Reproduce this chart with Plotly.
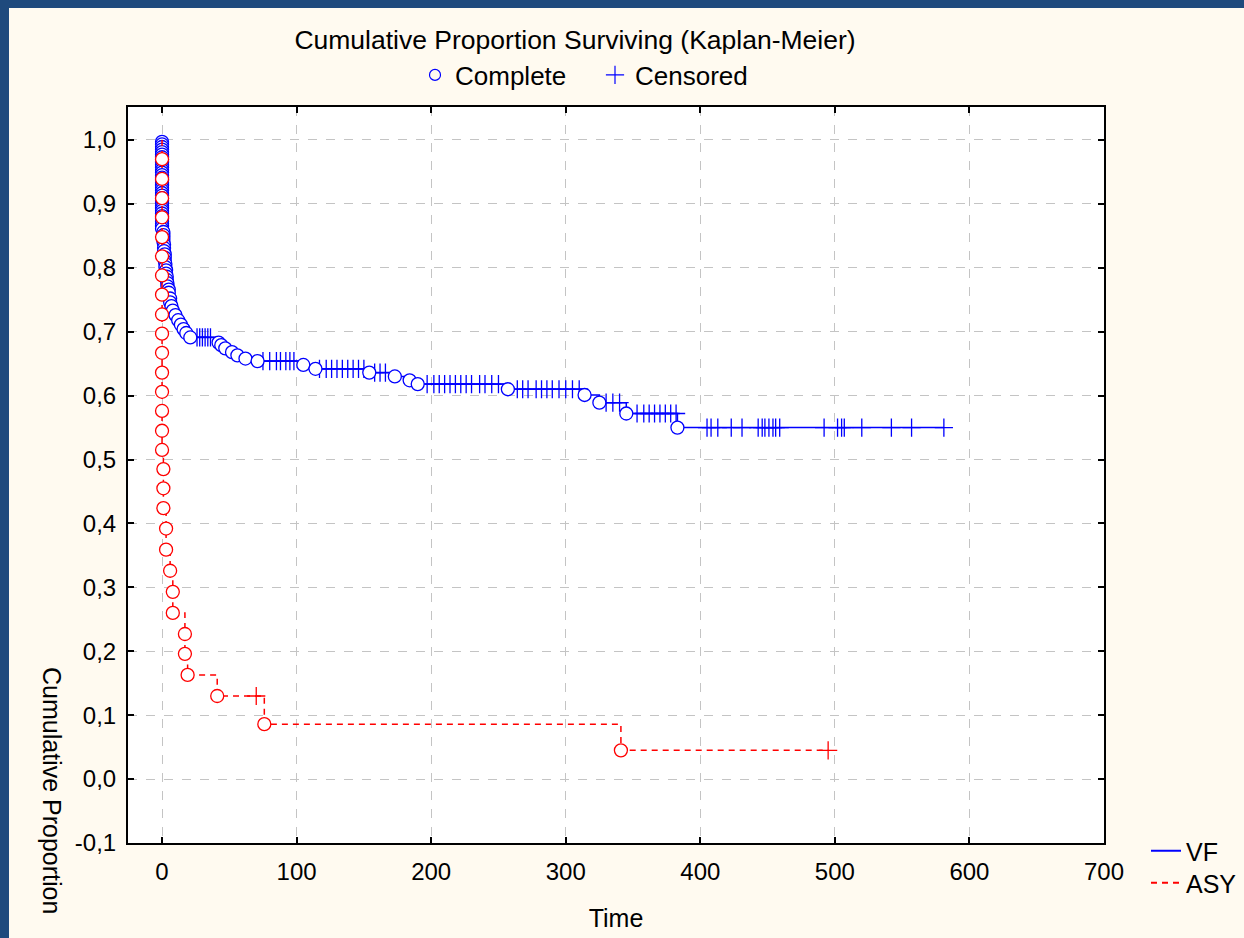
import plotly.graph_objects as go

# ---------------- data ----------------
vf_complete_t = [
    0, 0, 0, 0, 0, 0, 0, 0, 0, 0, 0, 0, 0, 0, 0, 0, 0, 0, 0, 0, 0, 0, 0, 0, 0, 0, 0, 0, 0, 0, 0, 0, 0, 0, 0,
    1, 1, 1, 1, 1.5, 1.5, 1.5, 2, 2, 2, 2.5, 2.5, 3, 3, 3.5, 3.5, 4, 4, 5, 5, 6, 6, 7, 8, 10, 12, 14, 16, 18, 21,
    42, 44, 47, 52, 56, 62, 71, 105, 114, 154, 173, 184, 190, 257, 314, 325, 345, 383]
vf_complete_s = [
    0.997, 0.993, 0.989, 0.985, 0.981, 0.977, 0.973, 0.969, 0.965, 0.961, 0.957, 0.953, 0.949, 0.945, 0.941,
    0.937, 0.933, 0.929, 0.925, 0.921, 0.917, 0.913, 0.909, 0.905, 0.901, 0.897, 0.893, 0.889, 0.885, 0.881,
    0.877, 0.873, 0.869, 0.865, 0.861,
    0.856, 0.851, 0.846, 0.841, 0.836, 0.831, 0.826, 0.821, 0.816, 0.811, 0.806, 0.801, 0.796, 0.791, 0.786,
    0.781, 0.776, 0.771, 0.766, 0.761, 0.752, 0.746, 0.740, 0.733, 0.726, 0.718, 0.711, 0.704, 0.698, 0.691,
    0.683, 0.679, 0.674, 0.668, 0.663, 0.658, 0.654, 0.648, 0.642, 0.636, 0.630, 0.624, 0.618, 0.610, 0.601,
    0.589, 0.572, 0.550]
vf_censored_t = [
    26, 28, 30, 32, 34, 36, 75, 80, 85, 88, 92, 95, 98, 117, 122, 126, 130, 134, 138, 142, 146, 150,
    158, 162, 166, 197, 202, 206, 210, 214, 218, 222, 226, 230, 236, 240, 245, 250,
    264, 268, 272, 278, 282, 286, 290, 295, 300, 305, 310, 330, 335, 340,
    353, 358, 362, 366, 370, 374, 378, 382,
    405, 408, 413, 423, 431, 443, 446, 448, 451, 454, 456, 459, 492, 502, 505, 507, 520, 542, 557, 581]

asy_complete_t = [0, 0, 0, 0, 0, 0, 0, 0, 0, 0, 0, 0, 0, 0, 0, 0,
                  1, 1, 1, 3, 3, 6, 8, 8, 17, 17, 19, 41, 76, 341]
asy_complete_s = [0.970, 0.939, 0.909, 0.879, 0.848, 0.818, 0.788, 0.758, 0.727, 0.697, 0.667, 0.636,
                  0.606, 0.576, 0.545, 0.515, 0.485, 0.455, 0.424, 0.392, 0.359, 0.326, 0.293, 0.260,
                  0.227, 0.196, 0.163, 0.130, 0.086, 0.045]
asy_censored_t = [70, 495]

x_tickvals = [0, 100, 200, 300, 400, 500, 600, 700]
x_ticktext = ["0", "100", "200", "300", "400", "500", "600", "700"]
y_tickvals = [-0.1, 0.0, 0.1, 0.2, 0.3, 0.4, 0.5, 0.6, 0.7, 0.8, 0.9, 1.0]
y_ticktext = ["-0,1", "0,0", "0,1", "0,2", "0,3", "0,4", "0,5", "0,6", "0,7", "0,8", "0,9", "1,0"]

BLUE = "#0000ff"
RED = "#ff0000"
FRAME = "#1f4a7d"
FONT = "Liberation Sans, Arial, sans-serif"


def level_at(t, times, surv):
    s = 1.0
    for ti, si in zip(times, surv):
        if ti <= t:
            s = si
    return s


def step_line(times, surv, censored):
    end = max(censored[-1], times[-1])
    return [0] + times + [end], [1.0] + surv + [surv[-1]]


fig = go.Figure()

for name, ct, cs, cens, col, dash in [
    ("VF", vf_complete_t, vf_complete_s, vf_censored_t, BLUE, "solid"),
    ("ASY", asy_complete_t, asy_complete_s, asy_censored_t, RED, "6px,5px"),
]:
    lx, ly = step_line(ct, cs, cens)
    fig.add_trace(go.Scatter(x=lx, y=ly, mode="lines", line=dict(color=col, width=1.5, dash=dash, shape="hv"),
                             showlegend=False, hoverinfo="skip"))
    fig.add_trace(go.Scatter(x=cens, y=[level_at(t, ct, cs) for t in cens], mode="markers",
                             marker=dict(symbol="cross-thin-open", size=13, color=col,
                                         line=dict(color=col, width=1.3)),
                             showlegend=False))
    fig.add_trace(go.Scatter(x=ct, y=cs, mode="markers",
                             marker=dict(symbol="circle", size=13, color="white", line=dict(color=col, width=1.3)),
                             showlegend=False))

# legend 1 (marker types)
fig.add_trace(go.Scatter(x=[None], y=[None], mode="markers", name="Complete", legend="legend",
                         marker=dict(symbol="circle-open", size=11, color=BLUE, line=dict(color=BLUE, width=1.2))))
fig.add_trace(go.Scatter(x=[None], y=[None], mode="markers", name="Censored", legend="legend",
                         marker=dict(symbol="cross-thin-open", size=13, color=BLUE, line=dict(color=BLUE, width=1.2))))
# legends for groups
fig.add_trace(go.Scatter(x=[None], y=[None], mode="lines", name="VF", legend="legend2",
                         line=dict(color=BLUE, width=2)))
fig.add_trace(go.Scatter(x=[None], y=[None], mode="lines", name="ASY", legend="legend3",
                         line=dict(color=RED, width=2, dash="6px,5px")))

# screen geometry: the page background forms the blue frame (left 9px, top 8px)
OX, OY = 9, 8
SW, SH = 1244, 938
W, H = SW - OX, SH - OY
PL, PT, PR, PB = 128, 107, 1104, 843          # plot area in screen pixels
L, T, R, B = PL - OX, PT - OY, SW - PR, SH - PB
pw, ph = PR - PL, PB - PT


def px_x(p):
    return (p - PL) / pw


def px_y(p):
    return (PB - p) / ph


axis_common = dict(
    showline=True, linecolor="black", linewidth=2, mirror="allticks",
    ticks="inside", ticklen=6, tickcolor="black", tickwidth=1.5,
    showgrid=True, gridcolor="#c4c4c4", griddash="dash", gridwidth=1,
    zeroline=False, tickfont=dict(family=FONT, size=24, color="black"),
)

leg_common = dict(bgcolor="rgba(0,0,0,0)", font=dict(family=FONT, size=25, color="black"))

fig.update_layout(
    width=W, height=H,
    margin=dict(l=L, r=R, t=T, b=B, autoexpand=False),
    paper_bgcolor="#fffaf0", plot_bgcolor="white",
    font=dict(family=FONT, size=25, color="black"),
    title=dict(text="Cumulative Proportion Surviving (Kaplan-Meier)", x=(575 - OX) / W, xanchor="center",
               xref="container", yref="container", y=1 - (40 - OY) / H, yanchor="middle",
               font=dict(family=FONT, size=26.5, color="black")),
    xaxis=dict(range=[-25.3, 700], tickvals=x_tickvals, ticktext=x_ticktext,
               title=dict(text="Time", font=dict(family=FONT, size=25), standoff=26),
               ticklabelstandoff=6, **axis_common),
    yaxis=dict(range=[-0.1, 1.0516], tickvals=y_tickvals, ticktext=y_ticktext,
               ticklabelstandoff=5, **axis_common),
    legend=dict(orientation="h", x=px_x(415), xanchor="left", y=px_y(75), yanchor="middle",
                entrywidth=135, entrywidthmode="pixels", font=dict(family=FONT, size=26, color="black"),
                bgcolor="rgba(0,0,0,0)"),
    legend2=dict(orientation="v", x=px_x(1146), xanchor="left", y=px_y(828), yanchor="top", **leg_common),
    legend3=dict(orientation="v", x=px_x(1146), xanchor="left", y=px_y(860), yanchor="top", **leg_common),
    showlegend=True,
    annotations=[
        dict(text="Cumulative Proportion", xref="paper", yref="paper", x=px_x(52), y=px_y(790),
             textangle=90, showarrow=False, xanchor="center", yanchor="middle",
             font=dict(family=FONT, size=25, color="black")),
    ],
)

fig.write_html(
    "out.html",
    config={"displayModeBar": False},
    post_script="document.body.style.margin='0px';document.body.style.padding='%dpx 0px 0px %dpx';"
                "document.body.style.overflow='hidden';document.body.style.backgroundColor='%s';"
                % (OY, OX, FRAME),
)
